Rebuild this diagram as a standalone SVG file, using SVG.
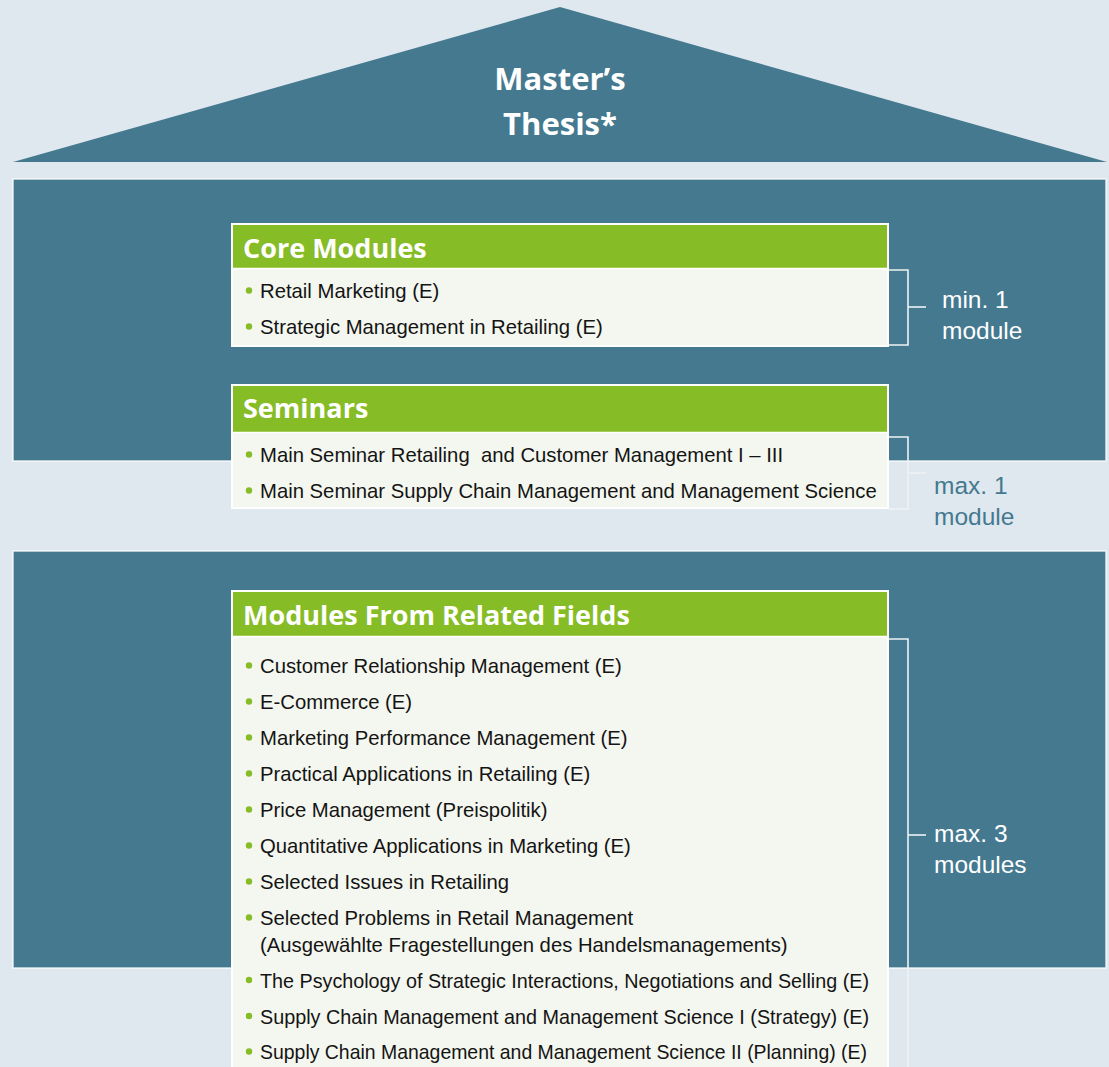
<svg xmlns="http://www.w3.org/2000/svg" width="1109" height="1067" viewBox="0 0 1109 1067">
<style>
.bg{fill:#e0e8ef}
.teal{fill:#44798f;stroke:#ffffff;stroke-width:1.5;stroke-opacity:0.8}
.box{fill:#f4f7ef;stroke:#ffffff;stroke-width:2}
.hdr{fill:#86bc25}
.sep{stroke:#ffffff;stroke-width:1.5}
.title{font-family:"Open Sans","Liberation Sans",sans-serif;font-weight:bold;font-size:31px;fill:#ffffff;text-anchor:middle}
.htxt{font-family:"Open Sans","Liberation Sans",sans-serif;font-weight:bold;font-size:27px;fill:#ffffff}
.item{font-family:"Liberation Sans",Arial,sans-serif;font-size:20.3px;fill:#141414}
.dot{fill:#86bc25}
.lblw{font-family:"Liberation Sans",Arial,sans-serif;font-size:24.5px;fill:#ffffff}
.lblt{font-family:"Liberation Sans",Arial,sans-serif;font-size:24.5px;fill:#44798f}
.br{fill:none;stroke:#eef2f5;stroke-width:1.6}
</style>
<rect class="bg" x="0" y="0" width="1109" height="1067"/>

<g id="roof">
<polygon points="13,162 560,7 1107,162" fill="#44798f"/>
<text class="title" x="560" y="90">Master’s</text>
<text class="title" x="560" y="135">Thesis*</text>
</g>

<g id="upper-block">
<rect class="teal" x="13" y="179" width="1093" height="282"/>
</g>

<g id="lower-block">
<rect class="teal" x="13" y="551" width="1093" height="417"/>
</g>

<g id="core-modules">
<rect class="box" x="232" y="224" width="656" height="122"/>
<rect class="hdr" x="233" y="225" width="654" height="43"/>
<line class="sep" x1="233" y1="268.5" x2="887" y2="268.5"/>
<text class="htxt" x="243" y="258">Core Modules</text>
<circle class="dot" cx="249" cy="290.5" r="3.2"/>
<text class="item" x="260" y="298">Retail Marketing (E)</text>
<circle class="dot" cx="249" cy="326.5" r="3.2"/>
<text class="item" x="260" y="334">Strategic Management in Retailing (E)</text>
</g>

<g id="seminars">
<rect class="box" x="232" y="385" width="656" height="123"/>
<rect class="hdr" x="233" y="386" width="654" height="46"/>
<line class="sep" x1="233" y1="432.5" x2="887" y2="432.5"/>
<text class="htxt" x="243" y="418">Seminars</text>
<circle class="dot" cx="249" cy="454.5" r="3.2"/>
<text class="item" x="260" y="462" xml:space="preserve">Main Seminar Retailing  and Customer Management I – III</text>
<circle class="dot" cx="249" cy="490.5" r="3.2"/>
<text class="item" x="260" y="498">Main Seminar Supply Chain Management and Management Science</text>
</g>

<g id="related-fields">
<rect class="box" x="232" y="591" width="656" height="500"/>
<rect class="hdr" x="233" y="592" width="654" height="44"/>
<line class="sep" x1="233" y1="636.5" x2="887" y2="636.5"/>
<text class="htxt" x="243" y="625">Modules From Related Fields</text>
<circle class="dot" cx="249" cy="665.5" r="3.2"/>
<text class="item" x="260" y="673">Customer Relationship Management (E)</text>
<circle class="dot" cx="249" cy="701.5" r="3.2"/>
<text class="item" x="260" y="709">E-Commerce (E)</text>
<circle class="dot" cx="249" cy="737.5" r="3.2"/>
<text class="item" x="260" y="745">Marketing Performance Management (E)</text>
<circle class="dot" cx="249" cy="773.5" r="3.2"/>
<text class="item" x="260" y="781">Practical Applications in Retailing (E)</text>
<circle class="dot" cx="249" cy="809.5" r="3.2"/>
<text class="item" x="260" y="817">Price Management (Preispolitik)</text>
<circle class="dot" cx="249" cy="845.5" r="3.2"/>
<text class="item" x="260" y="853">Quantitative Applications in Marketing (E)</text>
<circle class="dot" cx="249" cy="881.5" r="3.2"/>
<text class="item" x="260" y="889">Selected Issues in Retailing</text>
<circle class="dot" cx="249" cy="917.5" r="3.2"/>
<text class="item" x="260" y="925">Selected Problems in Retail Management</text>
<text class="item" x="260" y="952">(Ausgewählte Fragestellungen des Handelsmanagements)</text>
<circle class="dot" cx="249" cy="980" r="3.2"/>
<text class="item" x="260" y="987.5" textLength="609" lengthAdjust="spacingAndGlyphs">The Psychology of Strategic Interactions, Negotiations and Selling (E)</text>
<circle class="dot" cx="249" cy="1016" r="3.2"/>
<text class="item" x="260" y="1023.5" textLength="609" lengthAdjust="spacingAndGlyphs">Supply Chain Management and Management Science I (Strategy) (E)</text>
<circle class="dot" cx="249" cy="1051.5" r="3.2"/>
<text class="item" x="260" y="1059" textLength="607" lengthAdjust="spacingAndGlyphs">Supply Chain Management and Management Science II (Planning) (E)</text>
</g>

<g id="connectors">
<polyline class="br" points="889,270 908,270 908,345 889,345"/>
<line class="br" x1="908" y1="307" x2="926" y2="307"/>
<polyline class="br" points="889,437 908,437 908,509 889,509"/>
<line class="br" x1="908" y1="473" x2="926" y2="473"/>
<polyline class="br" points="889,639 908,639 908,1070"/>
<line class="br" x1="908" y1="835" x2="926" y2="835"/>
</g>

<g id="labels">
<text class="lblw" x="942" y="308">min. 1</text>
<text class="lblw" x="942" y="339">module</text>
<text class="lblt" x="934" y="494">max. 1</text>
<text class="lblt" x="934" y="525">module</text>
<text class="lblw" x="934" y="842">max. 3</text>
<text class="lblw" x="934" y="873">modules</text>
</g>
</svg>
